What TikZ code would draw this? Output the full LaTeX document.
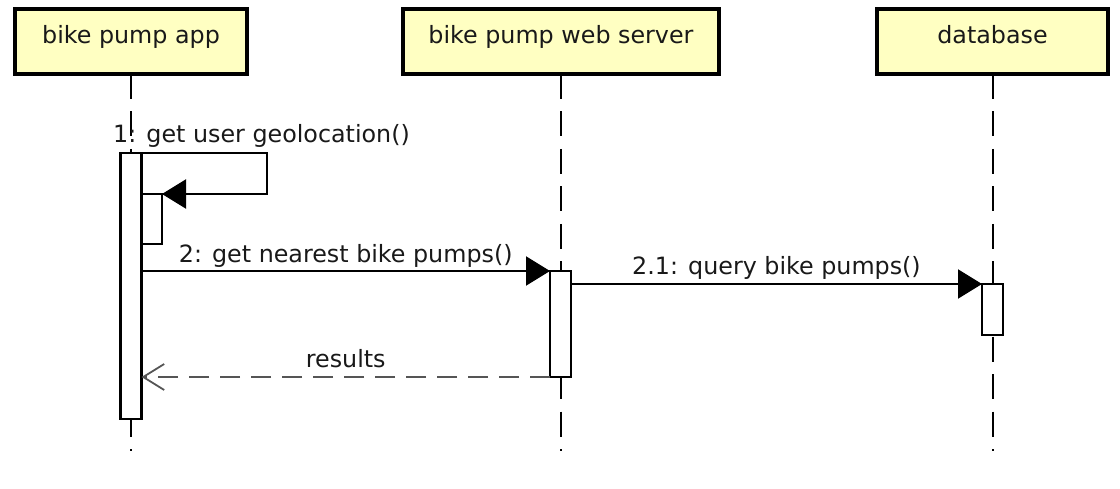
\documentclass[tikz,border=0pt]{standalone}
\usepackage{fontspec}
\setmainfont{DejaVu Sans}
\usetikzlibrary{arrows.meta}
\definecolor{boxfill}{RGB}{255,255,194}
\definecolor{txt}{RGB}{25,25,25}
\definecolor{retgray}{RGB}{85,85,85}
\tikzset{
  actor/.style={draw=black, line width=4.5pt, fill=boxfill, inner sep=0pt, outer sep=0pt},
  lifeline/.style={draw=black, line width=1.8pt, dash pattern=on 25pt off 12.5pt},
  activation/.style={draw=black, line width=2.4pt, fill=white, inner sep=0pt, outer sep=0pt},
  msg/.style={draw=black, line width=2.1pt, -{Triangle[length=24pt,width=29pt]}},
  retmsg/.style={draw=retgray, line width=2.3pt, dash pattern=on 20pt off 11pt,
     -{Straight Barb[length=21pt,width=26pt,line width=1.8pt]}},
  lbl/.style={font=\fontsize{23.8}{28}\selectfont, text=txt, inner sep=0pt},
}
\begin{document}
\begin{tikzpicture}[x=1pt,y=-1pt]
\useasboundingbox (0,0) rectangle (1120,489);
% actor boxes
\node[actor, minimum width=232pt, minimum height=65pt] (app) at (131,41.5) {};
\node[actor, minimum width=316pt, minimum height=65pt] (srv) at (561,41.5) {};
\node[actor, minimum width=231pt, minimum height=65pt] (db) at (992.5,41.5) {};
\node[lbl, anchor=base] (appt) at (131,44) {bike pump app};
\node[lbl, anchor=base] (srvt) at (561,44) {bike pump web server};
\node[lbl, anchor=base] (dbt) at (992.5,44) {database};
% lifeline ends
\coordinate (append) at (131,451);
\coordinate (srvend) at (561,451);
\coordinate (dbend) at (993,451);
\draw[lifeline] (app.south) -- (append);
\draw[lifeline] (srv.south) -- (srvend);
\draw[lifeline] (db.south -| dbend) -- (dbend);
% activations
\node[activation, minimum width=21pt, minimum height=266pt, anchor=north] (actA) at (131,153) {};
\node[activation, minimum width=20pt, minimum height=50pt, anchor=north west] (nest) at (142,194) {};
\node[activation, minimum width=21pt, minimum height=106pt, anchor=north] (actS) at (560.5,271) {};
\node[activation, minimum width=21pt, minimum height=51pt, anchor=north] (actD) at (992.5,284) {};
% self message
\coordinate (turn) at (267,153);
\draw[msg] (actA.north east) -- (turn) |- (nest.north east);
\node[lbl, anchor=base west] (l1) at (113,143) {1: get user geolocation()};
% message 2
\draw[msg] (actA.east |- actS.north) -- (actS.north west)
  node[lbl, midway, anchor=base, yshift=8pt] (l2) {2: get nearest bike pumps()};
% message 2.1
\draw[msg] (actS.east |- actD.north) -- (actD.north west)
  node[lbl, midway, anchor=base, yshift=9pt] (l21) {2.1: query bike pumps()};
% return
\draw[retmsg] (actS.south west) -- (actA.east |- actS.south)
  node[lbl, midway, anchor=base, yshift=10pt] (l3) {results};
\end{tikzpicture}
\end{document}
